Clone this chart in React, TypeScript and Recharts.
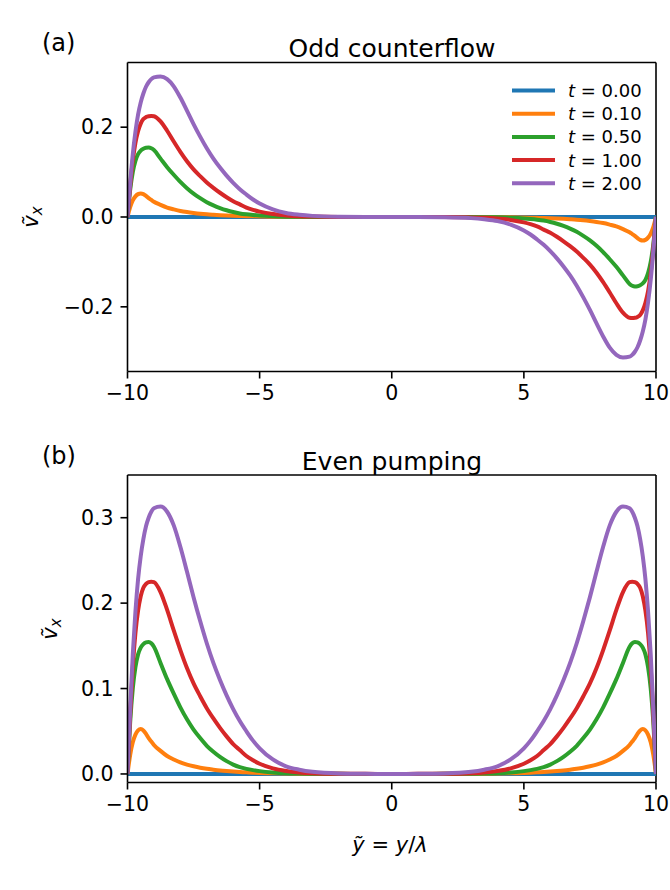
import { LineChart, Line, XAxis, YAxis, ReferenceLine } from "recharts";

// y~ = y / lambda sample positions (denser near the walls)
const yTilde = [
  -10, -9.9, -9.8, -9.7, -9.6, -9.5, -9.4, -9.3, -9.2, -9.1, -9,
  -8.75, -8.5, -8.25, -8, -7.75, -7.5, -7.25, -7, -6.75, -6.5, -6.25, -6, -5.75, -5.5, -5.25, -5,
  -4.5, -4, -3.5, -3, -2, -1, 0,
  1, 2, 3, 3.5, 4, 4.5,
  5, 5.25, 5.5, 5.75, 6, 6.25, 6.5, 6.75, 7, 7.25, 7.5, 7.75, 8, 8.25, 8.5, 8.75,
  9, 9.1, 9.2, 9.3, 9.4, 9.5, 9.6, 9.7, 9.8, 9.9, 10,
];

const t000 = [
  0, 0, 0, 0, 0, 0, 0, 0, 0, 0, 0,
  0, 0, 0, 0, 0, 0, 0, 0, 0, 0, 0, 0, 0, 0, 0, 0,
  0, 0, 0, 0, 0, 0, 0,
  0, 0, 0, 0, 0, 0,
  0, 0, 0, 0, 0, 0, 0, 0, 0, 0, 0, 0, 0, 0, 0, 0,
  0, 0, 0, 0, 0, 0, 0, 0, 0, 0, 0,
];

// (b) even pumping
const evenT010 = [
  0, 0.022, 0.037, 0.046, 0.051, 0.0525, 0.051, 0.047, 0.042, 0.038, 0.034,
  0.027, 0.021, 0.017, 0.0135, 0.011, 0.009, 0.0073, 0.006, 0.005, 0.0041, 0.0034, 0.0028, 0.0023, 0.0019, 0.0015, 0.0012,
  0.0008, 0.0005, 0.0003, 0.0002, 0.0001, 0, 0,
  0, 0.0001, 0.0002, 0.0003, 0.0005, 0.0008,
  0.0012, 0.0015, 0.0019, 0.0023, 0.0028, 0.0034, 0.0041, 0.005, 0.006, 0.0073, 0.009, 0.011, 0.0135, 0.017, 0.021, 0.027,
  0.034, 0.038, 0.042, 0.047, 0.051, 0.0525, 0.051, 0.046, 0.037, 0.022, 0,
];
const evenT050 = [
  0, 0.06, 0.1, 0.125, 0.14, 0.148, 0.152, 0.154, 0.1545, 0.153, 0.149,
  0.13, 0.111, 0.094, 0.078, 0.064, 0.052, 0.042, 0.033, 0.026, 0.02, 0.015, 0.011, 0.008, 0.006, 0.0045, 0.0033,
  0.0017, 0.0008, 0.0004, 0.0002, 0.0001, 0, 0,
  0, 0.0001, 0.0002, 0.0004, 0.0008, 0.0017,
  0.0033, 0.0045, 0.006, 0.008, 0.011, 0.015, 0.02, 0.026, 0.033, 0.042, 0.052, 0.064, 0.078, 0.094, 0.111, 0.13,
  0.149, 0.153, 0.1545, 0.154, 0.152, 0.148, 0.14, 0.125, 0.1, 0.06, 0,
];
const evenT100 = [
  0, 0.068, 0.125, 0.165, 0.191, 0.208, 0.218, 0.2225, 0.2245, 0.225, 0.2245,
  0.213, 0.192, 0.168, 0.145, 0.124, 0.106, 0.091, 0.077, 0.065, 0.054, 0.044, 0.035, 0.028, 0.021, 0.016, 0.012,
  0.0065, 0.0035, 0.0018, 0.0009, 0.0002, 0.0001, 0,
  0.0001, 0.0002, 0.0009, 0.0018, 0.0035, 0.0065,
  0.012, 0.016, 0.021, 0.028, 0.035, 0.044, 0.054, 0.065, 0.077, 0.091, 0.106, 0.124, 0.145, 0.168, 0.192, 0.213,
  0.2245, 0.225, 0.2245, 0.2225, 0.218, 0.208, 0.191, 0.165, 0.125, 0.068, 0,
];
const evenT200 = [
  0, 0.075, 0.14, 0.19, 0.228, 0.255, 0.275, 0.29, 0.3, 0.307, 0.311,
  0.313, 0.307, 0.291, 0.266, 0.237, 0.207, 0.179, 0.153, 0.13, 0.11, 0.092, 0.076, 0.062, 0.05, 0.039, 0.03,
  0.017, 0.009, 0.005, 0.0025, 0.0006, 0.0002, 0,
  0.0002, 0.0006, 0.0025, 0.005, 0.009, 0.017,
  0.03, 0.039, 0.05, 0.062, 0.076, 0.092, 0.11, 0.13, 0.153, 0.179, 0.207, 0.237, 0.266, 0.291, 0.307, 0.313,
  0.311, 0.307, 0.3, 0.29, 0.275, 0.255, 0.228, 0.19, 0.14, 0.075, 0,
];

// (a) odd counterflow
const oddT010 = [
  0, 0.022, 0.037, 0.046, 0.051, 0.0525, 0.051, 0.047, 0.042, 0.038, 0.034,
  0.027, 0.021, 0.017, 0.0135, 0.011, 0.009, 0.0073, 0.006, 0.005, 0.0041, 0.0034, 0.0028, 0.0023, 0.0019, 0.0015, 0.0012,
  0.0008, 0.0005, 0.0003, 0.0002, 0.0001, 0, 0,
  0, -0.0001, -0.0002, -0.0003, -0.0005, -0.0008,
  -0.0012, -0.0015, -0.0019, -0.0023, -0.0028, -0.0034, -0.0041, -0.005, -0.006, -0.0073, -0.009, -0.011, -0.0135, -0.017, -0.021, -0.027,
  -0.034, -0.038, -0.042, -0.047, -0.051, -0.0525, -0.051, -0.046, -0.037, -0.022, 0,
];
const oddT050 = [
  0, 0.06, 0.1, 0.125, 0.14, 0.148, 0.152, 0.154, 0.1545, 0.153, 0.149,
  0.13, 0.111, 0.094, 0.078, 0.064, 0.052, 0.042, 0.033, 0.026, 0.02, 0.015, 0.011, 0.008, 0.006, 0.0045, 0.0033,
  0.0017, 0.0008, 0.0004, 0.0002, 0.0001, 0, 0,
  0, -0.0001, -0.0002, -0.0004, -0.0008, -0.0017,
  -0.0033, -0.0045, -0.006, -0.008, -0.011, -0.015, -0.02, -0.026, -0.033, -0.042, -0.052, -0.064, -0.078, -0.094, -0.111, -0.13,
  -0.149, -0.153, -0.1545, -0.154, -0.152, -0.148, -0.14, -0.125, -0.1, -0.06, 0,
];
const oddT100 = [
  0, 0.068, 0.125, 0.165, 0.191, 0.208, 0.218, 0.2225, 0.2245, 0.225, 0.2245,
  0.213, 0.192, 0.168, 0.145, 0.124, 0.106, 0.091, 0.077, 0.065, 0.054, 0.044, 0.035, 0.028, 0.021, 0.016, 0.012,
  0.0065, 0.0035, 0.0018, 0.0009, 0.0002, 0.0001, 0,
  -0.0001, -0.0002, -0.0009, -0.0018, -0.0035, -0.0065,
  -0.012, -0.016, -0.021, -0.028, -0.035, -0.044, -0.054, -0.065, -0.077, -0.091, -0.106, -0.124, -0.145, -0.168, -0.192, -0.213,
  -0.2245, -0.225, -0.2245, -0.2225, -0.218, -0.208, -0.191, -0.165, -0.125, -0.068, 0,
];
const oddT200 = [
  0, 0.075, 0.14, 0.19, 0.228, 0.255, 0.275, 0.29, 0.3, 0.307, 0.311,
  0.313, 0.307, 0.291, 0.266, 0.237, 0.207, 0.179, 0.153, 0.13, 0.11, 0.092, 0.076, 0.062, 0.05, 0.039, 0.03,
  0.017, 0.009, 0.005, 0.0025, 0.0006, 0.0002, 0,
  -0.0002, -0.0006, -0.0025, -0.005, -0.009, -0.017,
  -0.03, -0.039, -0.05, -0.062, -0.076, -0.092, -0.11, -0.13, -0.153, -0.179, -0.207, -0.237, -0.266, -0.291, -0.307, -0.313,
  -0.311, -0.307, -0.3, -0.29, -0.275, -0.255, -0.228, -0.19, -0.14, -0.075, 0,
];

const xTicks = [-10, -5, 0, 5, 10];
const oddTicks = [-0.2, 0, 0.2];
const evenTicks = [0, 0.1, 0.2, 0.3];
const timeLabels = ["0.00", "0.10", "0.50", "1.00", "2.00"];
const seriesKeys = ["t000", "t010", "t050", "t100", "t200"];
const colors = ["#1f77b4", "#ff7f0e", "#2ca02c", "#d62728", "#9467bd"];

const oddData = yTilde.map((x, i) => ({
  x,
  t000: t000[i],
  t010: oddT010[i],
  t050: oddT050[i],
  t100: oddT100[i],
  t200: oddT200[i],
}));

const evenData = yTilde.map((x, i) => ({
  x,
  t000: t000[i],
  t010: evenT010[i],
  t050: evenT050[i],
  t100: evenT100[i],
  t200: evenT200[i],
}));

const FONT = "DejaVu Sans";
const fmt = (v: number, digits: number) =>
  (v < 0 ? "\u2212" : "") + Math.abs(v).toFixed(digits);

function Panel({
  data,
  domain,
  ticks,
  top,
  height,
  margin,
}: {
  data: typeof oddData;
  domain: [number, number];
  ticks: number[];
  top: number;
  height: number;
  margin: { top: number; right: number; bottom: number; left: number };
}) {
  const tickStyle = { fill: "#000", fontSize: 20.5, fontFamily: FONT };
  return (
    <div style={{ position: "absolute", left: 0, top, width: 670, height }}>
      <LineChart width={670} height={height} data={data} margin={margin}>
        <XAxis
          dataKey="x"
          type="number"
          domain={[-10, 10]}
          ticks={xTicks}
          allowDataOverflow
          height={40}
          tick={tickStyle}
          tickSize={7}
          tickMargin={7}
          tickFormatter={(v: number) => fmt(v, 0)}
          axisLine={{ stroke: "#000", strokeWidth: 1.6 }}
          tickLine={{ stroke: "#000", strokeWidth: 1.6 }}
        />
        <YAxis
          type="number"
          domain={domain}
          ticks={ticks}
          allowDataOverflow
          width={60}
          tick={tickStyle}
          tickSize={7}
          tickMargin={7}
          tickFormatter={(v: number) => fmt(v, 1)}
          axisLine={{ stroke: "#000", strokeWidth: 1.6 }}
          tickLine={{ stroke: "#000", strokeWidth: 1.6 }}
        />
        <ReferenceLine y={domain[1]} stroke="#000" strokeWidth={1.6} />
        <ReferenceLine x={10} stroke="#000" strokeWidth={1.6} />
        {seriesKeys.map((k, i) => (
          <Line
            key={k}
            dataKey={k}
            type="monotone"
            stroke={colors[i]}
            strokeWidth={4}
            dot={false}
            isAnimationActive={false}
          />
        ))}
      </LineChart>
    </div>
  );
}

export default function App() {
  return (
    <div
      style={{
        position: "absolute",
        left: 0,
        top: 0,
        width: 670,
        height: 890,
        background: "#fff",
        overflow: "hidden",
        fontFamily: FONT,
      }}
    >
      <Panel
        data={oddData}
        domain={[-0.344, 0.344]}
        ticks={oddTicks}
        top={0}
        height={420}
        margin={{ top: 62.5, right: 14, bottom: 8.5, left: 67.5 }}
      />
      <Panel
        data={evenData}
        domain={[-0.01, 0.35]}
        ticks={evenTicks}
        top={420}
        height={470}
        margin={{ top: 55, right: 14, bottom: 67.5, left: 67.5 }}
      />
      <svg
        width={670}
        height={890}
        style={{ position: "absolute", left: 0, top: 0, pointerEvents: "none" }}
        fontFamily={FONT}
      >
        <text x={42} y={51} fontSize={24}>(a)</text>
        <text x={42} y={464} fontSize={24}>(b)</text>
        <text x={392} y={57} fontSize={25} textAnchor="middle">Odd counterflow</text>
        <text x={392} y={470} fontSize={25} textAnchor="middle">Even pumping</text>

        <text x={38} y={217} fontSize={21} textAnchor="middle" transform="rotate(-90 38 217)">
          <tspan fontStyle="italic">ṽ</tspan>
          <tspan fontStyle="italic" fontSize={15} dy={4}>x</tspan>
        </text>
        <text x={57} y={629} fontSize={21} textAnchor="middle" transform="rotate(-90 57 629)">
          <tspan fontStyle="italic">ṽ</tspan>
          <tspan fontStyle="italic" fontSize={15} dy={4}>x</tspan>
        </text>

        <text x={390} y={852} fontSize={21} textAnchor="middle">
          <tspan fontStyle="italic">ỹ</tspan>
          <tspan> = </tspan>
          <tspan fontStyle="italic">y</tspan>
          <tspan>/</tspan>
          <tspan fontStyle="italic">λ</tspan>
        </text>

        {timeLabels.map((lab, i) => {
          const y = 90.5 + i * 23.2;
          return (
            <g key={lab}>
              <line x1={512} x2={555} y1={y} y2={y} stroke={colors[i]} strokeWidth={4} />
              <text x={568} y={y + 6.5} fontSize={18}>
                <tspan fontStyle="italic">t</tspan>
                <tspan> = {lab}</tspan>
              </text>
            </g>
          );
        })}
      </svg>
    </div>
  );
}
